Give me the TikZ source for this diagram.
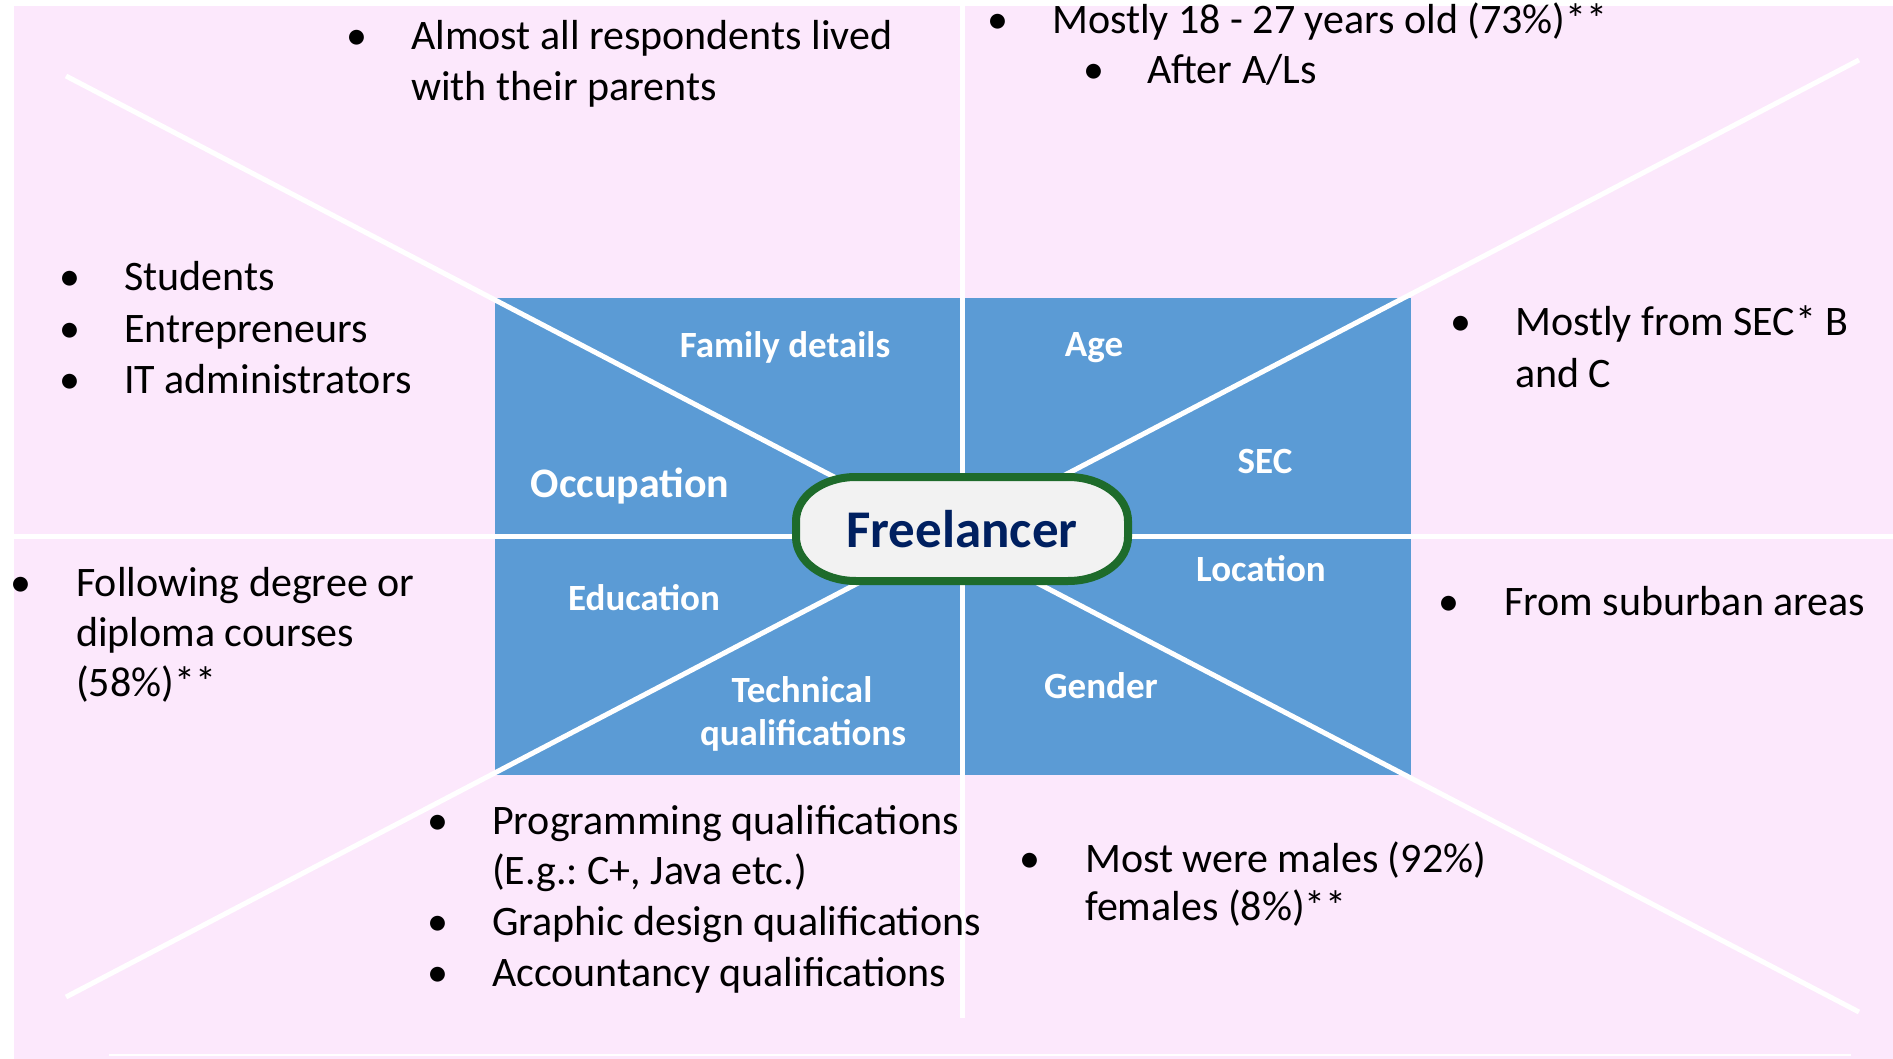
\documentclass[tikz,border=0pt]{standalone}
\usepackage{fontspec}
\setmainfont{Carlito}
\frenchspacing
\definecolor{slidepink}{HTML}{FCE8FC}
\definecolor{boxblue}{HTML}{5B9BD5}
\definecolor{pillgreen}{HTML}{1E6B2B}
\definecolor{pillgrey}{HTML}{F2F2F2}
\definecolor{navy}{HTML}{002060}
\begin{document}
\begin{tikzpicture}
  [x=1pt,y=-1pt,
   divider/.style={draw=white,line width=5pt},
   field/.style={text=white,anchor=base,inner sep=0,
                 font=\fontsize{37}{44}\selectfont\bfseries},
   item/.style={anchor=base west,inner sep=0,font=\fontsize{42}{51}\selectfont},
   dot/.style={anchor=base,inner sep=0,font=\fontsize{42}{51}\selectfont}]
  \useasboundingbox (0,0) rectangle (1893,1059);
  \fill[white] (0,0) rectangle (1893,1059);
  \fill[slidepink] (14,6) rectangle (1893,1059);
  \fill[boxblue] (495,298) rectangle (1411,775);
  \coordinate (top) at (962,0);
  \coordinate (bottom) at (962,1018);
  \coordinate (left) at (14,536);
  \coordinate (right) at (1893,536);
  \coordinate (nw) at (66,76);
  \coordinate (se) at (1859,1012);
  \coordinate (ne) at (1859,60);
  \coordinate (sw) at (66,997);
  \coordinate (footl) at (109,1055);
  \coordinate (footr) at (1851,1055);
  \draw[divider] (top) -- (bottom);
  \draw[divider] (left) -- (right);
  \draw[divider] (nw) -- (se);
  \draw[divider] (ne) -- (sw);
  \draw[white,line width=2pt] (footl) -- (footr);
  % centre pill
  \draw[pillgreen,line width=8pt,fill=pillgrey]
    (856,477) -- (1068,477) .. controls (1102,477) and (1128,497) .. (1128,521)
    -- (1128,537) .. controls (1128,561) and (1102,581) .. (1068,581)
    -- (856,581) .. controls (822,581) and (796,561) .. (796,537)
    -- (796,521) .. controls (796,497) and (822,477) .. (856,477) -- cycle;
  \node[anchor=base,inner sep=0,text=navy,font=\fontsize{53}{60}\selectfont\bfseries]
    (hub) at (962,547) {Freelancer};
  % segment labels
  \node[field] (family) at (785,357) {Family details};
  \node[field] (age) at (1094,356) {Age};
  \node[field] (sec) at (1265,473) {SEC};
  \node[field,font=\fontsize{42}{50}\selectfont\bfseries] (occupation) at (630,497) {Occupation};
  \node[field] (location) at (1261,581) {Location};
  \node[field] (education) at (644,610) {Education};
  \node[field] (technical1) at (802,702) {Technical};
  \node[field] (technical2) at (803,745) {qualifications};
  \node[field] (gender) at (1101,698) {Gender};
  % family details
  \node[dot] (famdot) at (357,50) {•};
  \node[item] (fam1) at (411,50) {Almost all respondents lived};
  \node[item] (fam2) at (411,101) {with their parents};
  % age
  \node[dot] (agedot1) at (998,34) {•};
  \node[item] (age1) at (1052,34) {Mostly 18 - 27 years old (73\%)**};
  \node[dot] (agedot2) at (1094,84) {•};
  \node[item] (age2) at (1147,84) {After A/Ls};
  % occupation
  \node[dot] (occdot1) at (70,291) {•};
  \node[item] (occ1) at (124,291) {Students};
  \node[dot] (occdot2) at (70,342) {•};
  \node[item] (occ2) at (124,342) {Entrepreneurs};
  \node[dot] (occdot3) at (70,393) {•};
  \node[item] (occ3) at (124,393) {IT administrators};
  % sec
  \node[dot] (secdot) at (1461,335) {•};
  \node[item] (sec1) at (1515,335) {Mostly from SEC* B};
  \node[item] (sec2) at (1515,387) {and C};
  % education
  \node[dot] (edudot) at (21,596) {•};
  \node[item] (edu1) at (76,596) {Following degree or};
  \node[item] (edu2) at (76,646) {diploma courses};
  \node[item] (edu3) at (76,696) {(58\%)**};
  % location
  \node[dot] (locdot) at (1449,615) {•};
  \node[item] (loc1) at (1504,615) {From suburban areas};
  % technical qualifications
  \node[dot] (techdot1) at (438,834) {•};
  \node[item] (tech1) at (492,834) {Programming qualifications};
  \node[item] (tech2) at (492,884) {(E.g.: C+, Java etc.)};
  \node[dot] (techdot2) at (438,935) {•};
  \node[item] (tech3) at (492,935) {Graphic design qualifications};
  \node[dot] (techdot3) at (438,986) {•};
  \node[item] (tech4) at (492,986) {Accountancy qualifications};
  % gender
  \node[dot] (gendot) at (1030,872) {•};
  \node[item] (gen1) at (1085,872) {Most were males (92\%)};
  \node[item] (gen2) at (1085,920) {females (8\%)**};
\end{tikzpicture}
\end{document}
